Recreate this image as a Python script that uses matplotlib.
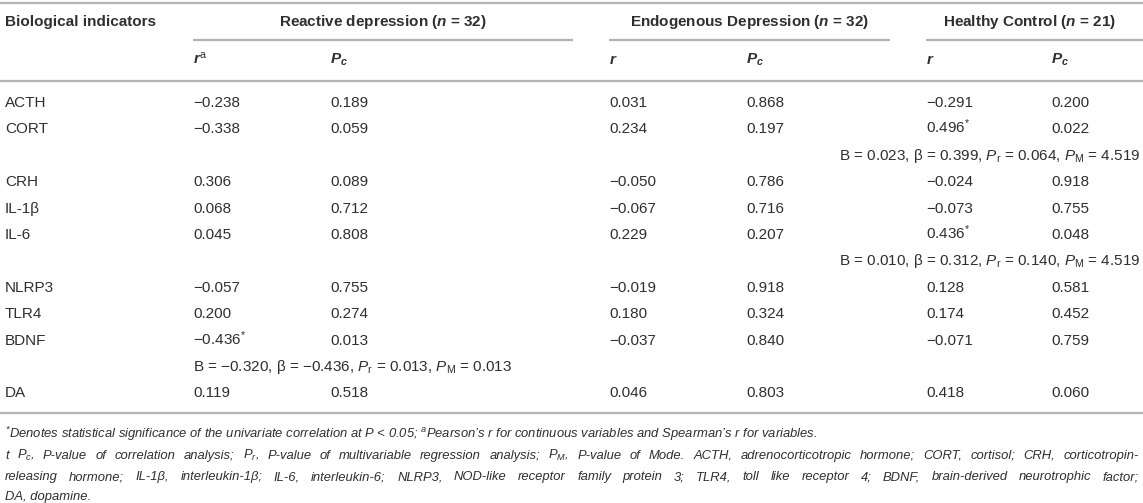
import matplotlib
matplotlib.use("Agg")
import matplotlib.pyplot as plt
from matplotlib import font_manager as fm

# table data
indicators = ["ACTH", "CORT", "CRH", "IL-1β", "IL-6", "NLRP3", "TLR4", "BDNF", "DA"]
rd_r = [-0.238, -0.338, 0.306, 0.068, 0.045, -0.057, 0.200, -0.436, 0.119]
rd_p = [0.189, 0.059, 0.089, 0.712, 0.808, 0.755, 0.274, 0.013, 0.518]
ed_r = [0.031, 0.234, -0.050, -0.067, 0.229, -0.019, 0.180, -0.037, 0.046]
ed_p = [0.868, 0.197, 0.786, 0.716, 0.207, 0.918, 0.324, 0.840, 0.803]
hc_r = [-0.291, 0.496, -0.024, -0.073, 0.436, 0.128, 0.174, -0.071, 0.418]
hc_p = [0.200, 0.022, 0.918, 0.755, 0.048, 0.581, 0.452, 0.759, 0.060]
rd_sig = [False, False, False, False, False, False, False, True, False]
ed_sig = [False] * 9
hc_sig = [False, True, False, False, True, False, False, False, False]

# multivariable regression lines (shown under the row of the indicator)
reg_after = ["CORT", "IL-6", "BDNF"]
reg_group = ["HC", "HC", "RD"]
reg_B = [0.023, 0.010, -0.320]
reg_beta = [0.399, 0.312, -0.436]
reg_Pr = [0.064, 0.140, 0.013]
reg_PM = [4.519, 4.519, 0.013]

group_titles = ["Reactive depression", "Endogenous Depression", "Healthy Control"]
group_n = [32, 32, 21]

footnote_lines = [
    r"${}^{\mathdefault{*}}$Denotes statistical significance of the univariate correlation at P < 0.05; "
    r"${}^{\mathdefault{a}}$Pearson’s r for continuous variables and Spearman’s r for variables.",
    r"t $\mathdefault{P}_{\mathdefault{c}}$, P-value of correlation analysis; $\mathdefault{P}_{\mathdefault{r}}$, "
    r"P-value of multivariable regression analysis; $\mathdefault{P}_{\mathdefault{M}}$, P-value of Mode. "
    r"ACTH, adrenocorticotropic hormone; CORT, cortisol; CRH, corticotropin-",
    r"releasing hormone; IL-1β, interleukin-1β; IL-6, interleukin-6; NLRP3, NOD-like receptor family "
    r"protein 3; TLR4, toll like receptor 4; BDNF, brain-derived neurotrophic factor;",
    r"DA, dopamine.",
]
footnote_justify = [False, True, True, False]

# fonts
installed = {f.name for f in fm.fontManager.ttflist}
main_font = "Liberation Sans" if "Liberation Sans" in installed else "DejaVu Sans"
plt.rcParams["font.family"] = [main_font, "DejaVu Sans"]
plt.rcParams["mathtext.fontset"] = "custom"
plt.rcParams["mathtext.rm"] = main_font
plt.rcParams["mathtext.it"] = main_font + ":italic"
plt.rcParams["mathtext.bf"] = main_font + ":bold"
plt.rcParams["mathtext.bfit"] = main_font + ":italic:bold"

TXT = "#2f2f2f"
RULE = "#b3b3b3"
FS = 11
BL = 4  # baseline offset below the row centre, px

W, H = 1143, 503
fig = plt.figure(figsize=(W / 100, H / 100), dpi=100)
ax = fig.add_axes([0, 0, 1, 1])
ax.set_xlim(0, W)
ax.set_ylim(H, 0)
ax.axis("off")

# column positions (pixels)
x_label = 5
col_r = [193, 609, 926]
col_p = [330, 746, 1051]
grp_span = [(193, 573), (609, 890), (926, W)]


def fmt(v, sig=False):
    s = f"{abs(v):.3f}"
    if v < 0:
        s = "\u2212" + s
    if sig:
        s += r"${}^{*}$"
    return s


def cell(x, y, s, ha="left", **kw):
    ax.text(x, round(y + BL), s, fontsize=FS, color=TXT, va="baseline", ha=ha, **kw)


# rules
for yy in [3, 81, 413]:
    ax.plot([0, W], [yy, yy], color=RULE, lw=1.6, solid_capstyle="butt")
for x0, x1 in grp_span:
    ax.plot([x0, x1], [40, 40], color=RULE, lw=1.6, solid_capstyle="butt")

# headers
cell(x_label, 22, "Biological indicators", fontweight="bold")
for (x0, x1), title, n in zip(grp_span, group_titles, group_n):
    xc = (x0 + x1) / 2 if x1 < W else 1029
    cell(xc, 22, title + r" ($\mathbfit{n}$ = " + str(n) + ")", ha="center", fontweight="bold")
sub_r = [r"$\mathbfit{r}^{\mathrm{a}}$", r"$\mathbfit{r}$", r"$\mathbfit{r}$"]
for i in range(3):
    cell(col_r[i], 60, sub_r[i])
    cell(col_p[i], 60, r"$\mathbfit{P}_{\mathbfit{c}}$")

# body rows
y = 103
step = 26.4
cols = [(rd_r, rd_p, rd_sig), (ed_r, ed_p, ed_sig), (hc_r, hc_p, hc_sig)]
for i, name in enumerate(indicators):
    cell(x_label, y, name)
    for g, (rv, pv, sg) in enumerate(cols):
        cell(col_r[g], y, fmt(rv[i], sg[i]))
        cell(col_p[g], y, fmt(pv[i]))
    y += step
    if name in reg_after:
        k = reg_after.index(name)
        s = ("B = " + fmt(reg_B[k]) + ", β = " + fmt(reg_beta[k]) +
             r", $P_{\mathrm{r}}$ = " + fmt(reg_Pr[k]) +
             r", $P_{\mathrm{M}}$ = " + fmt(reg_PM[k]))
        if reg_group[k] == "RD":
            cell(col_r[0], y, s)
        else:
            cell(W - 3, y, s, ha="right")
        y += step

# footnotes: italic, lines 2-3 justified to full width
renderer = fig.canvas.get_renderer()
fkw = dict(family=[main_font, "DejaVu Sans"], style="italic", color=TXT,
           va="baseline", ha="left")
probe = ax.text(0, 0, footnote_lines[0], fontsize=10, **fkw)
w0 = probe.get_window_extent(renderer).width
probe.remove()
ffs = 10 * 815 / w0
fy = [438, 459, 480, 500]
for line, yy, just in zip(footnote_lines, fy, footnote_justify):
    if not just:
        ax.text(5, yy, line, fontsize=ffs, **fkw)
        continue
    words = line.split(" ")
    texts = [ax.text(0, yy, w, fontsize=ffs, **fkw) for w in words]
    widths = [t.get_window_extent(renderer).width for t in texts]
    gap = (W - 4 - 5 - sum(widths)) / (len(words) - 1)
    x = 5
    for t, w in zip(texts, widths):
        t.set_x(x)
        x += w + gap

fig.savefig("out.png", dpi=100)
